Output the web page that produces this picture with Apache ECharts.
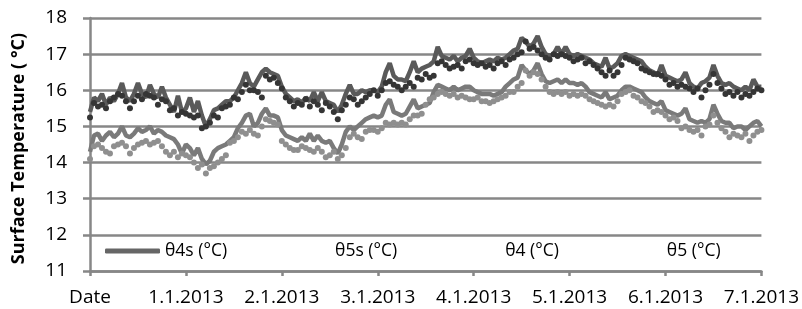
<!DOCTYPE html>
<html>
<head>
<meta charset="utf-8">
<script src="https://cdn.jsdelivr.net/npm/echarts@6/dist/echarts.min.js"></script>
<style>
  html, body { margin: 0; padding: 0; background: #fff; }
  #chart { width: 802px; height: 309px; }
</style>
</head>
<body>
<div id="chart"></div>
<script>
// hourly readings, hour 0 .. 168
const tickLabels = ['Date', '1.1.2013', '2.1.2013', '3.1.2013', '4.1.2013', '5.1.2013', '6.1.2013', '7.1.2013']
const seriesNames = ['θ4s (°C)', 'θ5s (°C)', 'θ4 (°C)', 'θ5 (°C)']

const theta4s = [
  15.4, 15.8, 15.7, 15.9, 15.6, 15.8, 15.7, 15.9, 16.2, 15.8, 15.7, 15.9, 16.2, 15.9, 15.8, 16.15, 15.9, 15.8, 16.1, 15.8, 15.6, 15.4, 15.85, 15.4,
  15.5, 15.8, 15.4, 15.7, 15.3, 15.0, 15.2, 15.45, 15.5, 15.6, 15.7, 15.7, 15.8, 16.0, 16.2, 16.5, 16.2, 16.1, 16.3, 16.5, 16.6, 16.5, 16.45, 16.4,
  16.1, 15.9, 15.8, 15.7, 15.75, 15.65, 15.8, 15.7, 15.95, 15.7, 15.95, 15.7, 15.65, 15.6, 15.4, 15.6, 15.9, 16.15, 15.9, 15.9, 16.0, 15.95, 16.0, 16.0,
  15.95, 16.1, 16.5, 16.75, 16.4, 16.3, 16.3, 16.25, 16.5, 16.8, 16.5, 16.6, 16.65, 16.7, 16.8, 17.2, 16.95, 16.9, 16.85, 16.95, 16.8, 16.9, 16.95, 17.15,
  16.9, 16.8, 16.75, 16.8, 16.85, 16.8, 16.9, 16.85, 16.9, 17.0, 17.1, 17.15, 17.45, 17.35, 17.2, 17.3, 17.5, 17.2, 17.0, 16.95, 17.0, 17.2, 17.0, 17.2,
  17.0, 16.95, 17.0, 16.95, 16.9, 16.85, 16.75, 16.7, 16.65, 16.9, 16.6, 16.65, 16.75, 16.95, 17.0, 16.95, 16.9, 16.85, 16.8, 16.65, 16.55, 16.5, 16.4, 16.7,
  16.4, 16.35, 16.3, 16.25, 16.3, 16.5, 16.2, 16.1, 16.05, 16.2, 16.25, 16.35, 16.7, 16.4, 16.2, 16.15, 16.2, 16.1, 16.05, 16.0, 16.1, 16.0, 16.3, 16.1,
  16.1
]

const theta5s = [
  14.3, 14.75, 14.8, 14.6, 14.75, 14.85, 14.7, 14.8, 15.0, 14.75, 14.7, 14.8, 14.95, 14.85, 14.9, 15.0, 14.8, 14.9, 14.85, 14.75, 14.7, 14.65, 14.5, 14.25,
  14.5, 14.4, 14.2, 14.4, 14.1, 13.95, 14.05, 14.3, 14.4, 14.45, 14.5, 14.6, 14.7, 14.95, 15.1, 15.3, 15.35, 15.0, 15.1, 15.35, 15.5, 15.3, 15.3, 15.25,
  14.9, 14.75, 14.7, 14.65, 14.6, 14.7, 14.6, 14.8, 14.6, 14.75, 14.6, 14.55, 14.6, 14.4, 14.25, 14.5, 14.85, 15.0, 14.9, 15.0, 15.1, 15.2, 15.25, 15.3,
  15.25, 15.3, 15.6, 15.75, 15.4, 15.35, 15.3, 15.35, 15.55, 15.75, 15.5, 15.55, 15.6, 15.65, 15.95, 16.15, 16.1, 16.05, 16.0, 16.1, 16.0, 16.05, 16.1, 16.1,
  16.0, 15.95, 15.9, 15.9, 15.9, 15.85, 15.9, 15.95, 16.1, 16.2, 16.3, 16.35, 16.7, 16.55, 16.45, 16.55, 16.75, 16.45, 16.25, 16.2, 16.25, 16.3, 16.2, 16.3,
  16.2, 16.2, 16.15, 16.2, 16.1, 15.95, 15.9, 15.85, 15.8, 15.95, 15.75, 15.8, 15.85, 16.0, 16.1, 16.1, 16.05, 16.0, 15.95, 15.8, 15.7, 15.65, 15.6, 15.7,
  15.45, 15.4, 15.35, 15.3, 15.35, 15.5, 15.2, 15.15, 15.1, 15.15, 15.1, 15.2, 15.6, 15.35, 15.15, 15.1, 15.1, 14.95, 15.0, 15.0, 14.9, 15.0, 15.1, 15.15,
  15.0
]

const theta4 = [
  15.25, 15.65, 15.55, 15.6, 15.5, 15.7, 15.8, 15.9, 15.85, 15.7, 15.5, 15.7, 15.85, 15.75, 15.9, 15.85, 15.8, 15.6, 15.75, 15.7, 15.45, 15.5, 15.3, 15.4,
  15.35, 15.3, 15.25, 15.3, 14.95, 15.0, 15.1, 15.3, 15.25, 15.5, 15.55, 15.6, 15.8, 15.75, 15.95, 16.15, 16.0, 16.0, 15.95, 15.8, 16.4, 16.3, 16.35, 16.2,
  16.05, 15.8, 15.7, 15.55, 15.65, 15.6, 15.75, 15.55, 15.7, 15.6, 15.45, 15.65, 15.55, 15.4, 15.2, 15.45, 15.6, 15.8, 15.75, 15.6, 15.7, 15.8, 15.9, 16.0,
  15.85, 16.0, 16.2, 16.25, 16.15, 16.1, 16.0, 16.1, 16.2, 16.1, 16.35, 16.3, 16.45, 16.35, 16.4, 16.75, 16.8, 16.7, 16.6, 16.65, 16.7, 16.6, 16.8, 16.85,
  16.75, 16.7, 16.75, 16.65, 16.7, 16.6, 16.75, 16.8, 16.7, 16.85, 16.9, 17.0, 17.05, 17.35, 17.15, 17.2, 17.1, 17.0, 16.9, 16.85, 17.0, 16.95, 17.0, 16.95,
  16.9, 16.8, 16.85, 16.9, 16.75, 16.8, 16.7, 16.6, 16.5, 16.4, 16.55, 16.4, 16.5, 16.7, 16.9, 16.85, 16.8, 16.75, 16.6, 16.55, 16.5, 16.45, 16.45, 16.4,
  16.3, 16.15, 16.2, 16.1, 16.15, 16.1, 16.05, 15.95, 16.05, 15.8, 16.0, 16.15, 16.45, 16.2, 16.05, 15.9, 15.95, 15.85, 15.95, 15.8, 15.9, 15.85, 15.95, 16.05,
  16.0
]

const theta5 = [
  14.1, 14.45, 14.5, 14.4, 14.3, 14.25, 14.45, 14.5, 14.55, 14.45, 14.25, 14.4, 14.5, 14.55, 14.6, 14.5, 14.55, 14.6, 14.45, 14.3, 14.2, 14.3, 14.15, 14.25,
  14.2, 14.15, 14.0, 13.85, 13.95, 13.7, 13.85, 13.9, 14.0, 14.1, 14.2, 14.55, 14.6, 14.7, 14.85, 14.8, 14.9, 14.8, 14.75, 15.0, 15.2, 15.15, 15.1, 15.05,
  14.6, 14.5, 14.4, 14.35, 14.35, 14.45, 14.4, 14.35, 14.3, 14.4, 14.3, 14.15, 14.2, 14.3, 14.1, 14.2, 14.4, 14.7, 14.8, 14.7, 14.65, 14.85, 14.9, 14.9,
  14.85, 14.95, 15.1, 15.05, 15.1, 15.05, 15.1, 15.05, 15.2, 15.3, 15.3, 15.35, 15.6, 15.75, 15.8, 15.9, 15.95, 15.9, 15.85, 15.9, 15.8, 15.85, 15.8, 15.75,
  15.75, 15.8, 15.7, 15.7, 15.65, 15.7, 15.75, 15.8, 15.85, 15.95, 15.95, 16.1, 16.2, 16.55, 16.4, 16.5, 16.45, 16.3, 16.1, 15.95, 15.9, 15.95, 15.9, 15.95,
  15.85, 15.9, 15.85, 15.9, 15.85, 15.75, 15.7, 15.65, 15.6, 15.55, 15.6, 15.55, 15.7, 15.9, 15.95, 16.0, 15.85, 15.8, 15.7, 15.65, 15.55, 15.4, 15.45, 15.4,
  15.3, 15.2, 15.25, 15.15, 14.95, 15.0, 14.9, 14.85, 14.9, 14.75, 15.0, 15.05, 15.3, 15.1, 14.95, 14.85, 14.7, 14.8, 14.75, 14.7, 14.8, 14.6, 14.75, 14.85,
  14.9
]

function pairs(values) {
  return values.map((v, i) => [i, v])
}

const chart = echarts.init(document.getElementById('chart'))

const font = '"Open Sans", sans-serif'
const gridColor = '#878787'

const option = {
  animation: false,
  backgroundColor: '#ffffff',
  textStyle: { fontFamily: font, color: '#000' },
  grid: { left: 90, right: 37, top: 18, bottom: 38 },
  legend: {
    left: 100,
    top: 237,
    itemWidth: 55,
    itemHeight: 5,
    itemGap: 48,
    textStyle: { fontFamily: font, fontSize: 17.5, color: '#000' },
    data: [
      { name: seriesNames[0], icon: 'roundRect', itemStyle: { color: '#666666' } },
      { name: seriesNames[1], icon: 'rect', itemStyle: { opacity: 0 } },
      { name: seriesNames[2], icon: 'rect', itemStyle: { opacity: 0 } },
      { name: seriesNames[3], icon: 'rect', itemStyle: { opacity: 0 } }
    ]
  },
  xAxis: {
    type: 'value',
    min: 0,
    max: 168,
    interval: 24,
    axisLine: { show: true, onZero: false, lineStyle: { color: gridColor, width: 2.5 } },
    axisTick: { show: true, length: 5, lineStyle: { color: gridColor, width: 2.5 } },
    splitLine: { show: false },
    axisLabel: {
      margin: 17,
      fontSize: 19,
      color: '#000',
      fontFamily: font,
      formatter: v => tickLabels[Math.round(v / 24)]
    }
  },
  yAxis: {
    type: 'value',
    min: 11,
    max: 18,
    interval: 1,
    name: 'Surface Temperature ( °C)',
    nameLocation: 'middle',
    nameGap: 62,
    nameTextStyle: { fontFamily: font, fontSize: 18, fontWeight: 'bold', color: '#000', padding: [0, 8, 0, 0] },
    axisLine: { show: true, lineStyle: { color: gridColor, width: 2.5 } },
    axisTick: { show: true, length: 7, lineStyle: { color: gridColor, width: 2.5 } },
    splitLine: { show: true, lineStyle: { color: gridColor, width: 2.5 } },
    axisLabel: { margin: 23, fontSize: 19, color: '#000', fontFamily: font }
  },
  series: [
    {
      name: seriesNames[0],
      type: 'line',
      data: pairs(theta4s),
      symbol: 'none',
      lineStyle: { color: '#5a5a5a', width: 4.5 },
      itemStyle: { color: '#666666' },
      z: 2
    },
    {
      name: seriesNames[1],
      type: 'line',
      data: pairs(theta5s),
      symbol: 'none',
      lineStyle: { color: '#7a7a7a', width: 4.5 },
      itemStyle: { color: '#7a7a7a' },
      z: 2
    },
    {
      name: seriesNames[2],
      type: 'scatter',
      data: pairs(theta4),
      symbolSize: 6,
      itemStyle: { color: '#353535', opacity: 1 },
      z: 3
    },
    {
      name: seriesNames[3],
      type: 'scatter',
      data: pairs(theta5),
      symbolSize: 6,
      itemStyle: { color: '#8f8f8f', opacity: 1 },
      z: 3
    }
  ]
}

chart.setOption(option)
</script>
</body>
</html>
